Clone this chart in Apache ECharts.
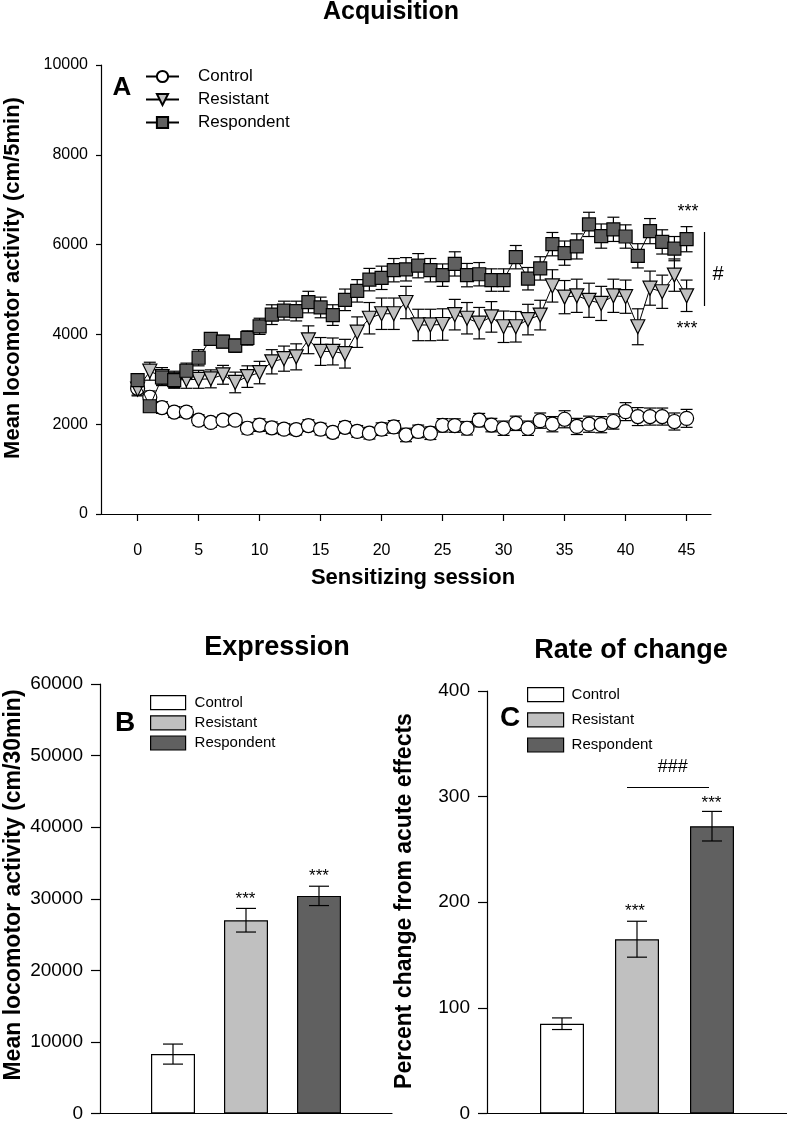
<!DOCTYPE html>
<html>
<head>
<meta charset="utf-8">
<script src="https://cdn.jsdelivr.net/npm/echarts@6/dist/echarts.min.js"></script>
<style>
html,body{margin:0;padding:0;background:#fff;}
#chart{width:787px;height:1123px;}
</style>
</head>
<body>
<div id="chart"></div>
<script>
// ---------- Panel A data ----------
const sessions = [0,1,2,3,4,5,6,7,8,9,10,11,12,13,14,15,16,17,18,19,20,21,22,23,24,25,26,27,28,29,30,31,32,33,34,35,36,37,38,39,40,41,42,43,44,45];
const xTickValues = [0,5,10,15,20,25,30,35,40,45];
const groupNames = ['Control','Resistant','Respondent'];

const controlMean = [2800,2600,2370,2270,2270,2090,2040,2090,2090,1910,1980,1920,1890,1880,1970,1890,1820,1930,1840,1800,1890,1940,1760,1840,1800,1975,1970,1910,2090,1980,1910,2020,1910,2080,2000,2110,1950,2000,1990,2060,2280,2170,2170,2170,2060,2130];
const controlErr = [150,140,130,120,120,120,110,110,110,130,140,130,120,120,130,130,120,130,130,130,140,140,150,140,140,150,150,150,150,150,160,160,160,170,170,190,180,180,180,170,200,200,190,190,190,200];

const resistantMean = [2780,3180,3060,2990,2990,3000,3010,3100,2930,3060,3150,3390,3460,3500,3880,3620,3620,3570,4050,4360,4460,4460,4710,4210,4210,4220,4440,4360,4250,4390,4170,4170,4330,4430,5080,4830,4860,4760,4690,4860,4840,4170,5030,4950,5320,4860];
const resistantErr = [150,200,200,190,190,200,200,210,230,240,250,270,280,290,310,310,300,320,340,350,350,350,360,350,350,350,340,350,350,340,350,340,340,330,360,370,370,380,380,370,370,400,380,370,360,350];

const respondentMean = [2980,2400,3040,2980,3190,3480,3900,3840,3750,3920,4180,4440,4530,4520,4720,4600,4430,4770,4970,5220,5260,5430,5450,5530,5430,5320,5570,5320,5340,5210,5210,5720,5240,5470,6010,5810,5960,6450,6190,6340,6180,5750,6300,6060,5910,6120];
const respondentErr = [140,130,150,160,170,180,130,140,150,160,180,220,210,220,240,230,230,240,250,250,260,260,260,270,260,250,270,260,260,250,250,260,250,260,260,270,280,270,270,270,260,270,280,270,270,280];

// ---------- Panel B / C data ----------
const barPositions = [1,2,3];
const expressionMean = [8300,27000,30400];
const expressionErr = [1400,1650,1350];
const rateMean = [85,165,272];
const rateErr = [5.5,17,14];

const FONT = "'Liberation Sans', Arial, Helvetica, sans-serif";
const colorsA = {Control:'#ffffff', Resistant:'#c0c0c0', Respondent:'#606060'};
const symbolsA = {Control:'circle', Resistant:'triangle', Respondent:'rect'};
const rotA = {Control:0, Resistant:180, Respondent:0};
const sizeA = {Control:14, Resistant:14, Respondent:13};

function plainNum(v){ return String(v); }

function errRender(capHalf){
  return function(params, api){
    const x = api.value(0), lo = api.value(1), hi = api.value(2);
    const p1 = api.coord([x, hi]);
    const p2 = api.coord([x, lo]);
    const st = {stroke:'#000', lineWidth:1.2};
    return {type:'group', children:[
      {type:'line', shape:{x1:p1[0], y1:p1[1], x2:p2[0], y2:p2[1]}, style:st},
      {type:'line', shape:{x1:p1[0]-capHalf, y1:p1[1], x2:p1[0]+capHalf, y2:p1[1]}, style:st},
      {type:'line', shape:{x1:p2[0]-capHalf, y1:p2[1], x2:p2[0]+capHalf, y2:p2[1]}, style:st}
    ]};
  };
}

const meansA = {Control:controlMean, Resistant:resistantMean, Respondent:respondentMean};
const errsA = {Control:controlErr, Resistant:resistantErr, Respondent:respondentErr};

const series = [];
groupNames.forEach(function(g){
  series.push({
    type:'custom', name:g+' err', xAxisIndex:0, yAxisIndex:0, z:1, silent:true,
    renderItem: errRender(6),
    data: sessions.map(function(s,i){ return [s, meansA[g][i]-errsA[g][i], meansA[g][i]+errsA[g][i]]; })
  });
});
groupNames.forEach(function(g, k){
  series.push({
    type:'line', name:g, xAxisIndex:0, yAxisIndex:0, z:3+k,
    symbol:symbolsA[g], symbolSize:sizeA[g], symbolRotate:rotA[g], showAllSymbol:true,
    lineStyle:{color:'#000', width:1},
    itemStyle:{color:colorsA[g], borderColor:'#000', borderWidth:1.2, opacity:1},
    data: sessions.map(function(s,i){ return [s, meansA[g][i]]; })
  });
});
groupNames.forEach(function(g, i){
  series.push({
    type:'bar', name:g, xAxisIndex:1, yAxisIndex:1, barWidth:44, barGap:'-100%', z:2,
    itemStyle:{color:colorsA[g], borderColor:'#000', borderWidth:1.2},
    data:[[barPositions[i], expressionMean[i]]]
  });
});
series.push({
  type:'custom', xAxisIndex:1, yAxisIndex:1, z:5, silent:true, renderItem:errRender(10),
  data: barPositions.map(function(p,i){ return [p, expressionMean[i]-expressionErr[i], expressionMean[i]+expressionErr[i]]; })
});
groupNames.forEach(function(g, i){
  series.push({
    type:'bar', name:g, xAxisIndex:2, yAxisIndex:2, barWidth:44, barGap:'-100%', z:2,
    itemStyle:{color:colorsA[g], borderColor:'#000', borderWidth:1.2},
    data:[[barPositions[i], rateMean[i]]]
  });
});
series.push({
  type:'custom', xAxisIndex:2, yAxisIndex:2, z:5, silent:true, renderItem:errRender(10),
  data: barPositions.map(function(p,i){ return [p, rateMean[i]-rateErr[i], rateMean[i]+rateErr[i]]; })
});

const axisLine = {show:true, onZero:false, lineStyle:{color:'#000', width:1.2}};

function rectLegendData(){
  return groupNames.map(function(g){
    return {name:g, icon:'rect', itemStyle:{color:colorsA[g], borderColor:'#000', borderWidth:1.2}};
  });
}

const option = {
  animation:false,
  backgroundColor:'#fff',
  textStyle:{fontFamily:FONT},
  grid:[
    {left:101, top:65, width:610, height:449},
    {left:100, top:684, width:292, height:430},
    {left:487, top:691, width:300, height:425}
  ],
  xAxis:[
    {type:'value', gridIndex:0, min:-3, max:47, axisLine:axisLine,
     axisTick:{show:true, length:7, customValues:xTickValues, lineStyle:{color:'#000', width:1.2}},
     axisLabel:{show:true, customValues:xTickValues, fontSize:16, color:'#000', margin:29, fontFamily:FONT, formatter:plainNum},
     splitLine:{show:false}},
    {type:'value', gridIndex:1, min:0, max:4, axisLine:axisLine, axisTick:{show:false}, axisLabel:{show:false}, splitLine:{show:false}},
    {type:'value', gridIndex:2, min:0, max:4, axisLine:axisLine, axisTick:{show:false}, axisLabel:{show:false}, splitLine:{show:false}}
  ],
  yAxis:[
    {type:'value', gridIndex:0, min:0, max:10000, interval:2000, axisLine:axisLine,
     axisTick:{show:true, length:5, lineStyle:{color:'#000', width:1.2}},
     axisLabel:{fontSize:16, color:'#000', margin:13, fontFamily:FONT, formatter:plainNum}, splitLine:{show:false}},
    {type:'value', gridIndex:1, min:0, max:60000, interval:10000, axisLine:axisLine,
     axisTick:{show:true, length:9, lineStyle:{color:'#000', width:1.2}},
     axisLabel:{fontSize:19, color:'#000', margin:17, fontFamily:FONT, formatter:plainNum}, splitLine:{show:false}},
    {type:'value', gridIndex:2, min:0, max:400, interval:100, axisLine:axisLine,
     axisTick:{show:true, length:9, lineStyle:{color:'#000', width:1.2}},
     axisLabel:{fontSize:19, color:'#000', margin:17, fontFamily:FONT, formatter:plainNum}, splitLine:{show:false}}
  ],
  legend:[
    {orient:'vertical', left:140, top:63, itemWidth:33, itemHeight:14, itemGap:6,
     selectedMode:false, data:groupNames.slice(),
     textStyle:{fontSize:17, color:'#000', fontFamily:FONT, padding:[0,0,0,14]}},
    {orient:'vertical', left:145, top:690, itemWidth:35, itemHeight:14, itemGap:5,
     selectedMode:false, data:rectLegendData(),
     textStyle:{fontSize:15, color:'#000', fontFamily:FONT, padding:[0,0,0,4]}},
    {orient:'vertical', left:522, top:682, itemWidth:36, itemHeight:14, itemGap:10,
     selectedMode:false, data:rectLegendData(),
     textStyle:{fontSize:15, color:'#000', fontFamily:FONT, padding:[0,0,0,3]}}
  ],
  graphic:[
    {type:'text', x:391, y:12, style:{text:'Acquisition', font:'bold 25px '+FONT, fill:'#000', textAlign:'center', textVerticalAlign:'middle'}},
    {type:'text', x:277, y:648, style:{text:'Expression', font:'bold 27px '+FONT, fill:'#000', textAlign:'center', textVerticalAlign:'middle'}},
    {type:'text', x:631, y:651, style:{text:'Rate of change', font:'bold 27px '+FONT, fill:'#000', textAlign:'center', textVerticalAlign:'middle'}},
    {type:'text', x:13, y:278, rotation:Math.PI/2, style:{text:'Mean locomotor activity (cm/5min)', font:'bold 22px '+FONT, fill:'#000', textAlign:'center', textVerticalAlign:'middle'}},
    {type:'text', x:14, y:885, rotation:Math.PI/2, style:{text:'Mean locomotor activity (cm/30min)', font:'bold 23px '+FONT, fill:'#000', textAlign:'center', textVerticalAlign:'middle'}},
    {type:'text', x:405, y:901, rotation:Math.PI/2, style:{text:'Percent change from acute effects', font:'bold 23px '+FONT, fill:'#000', textAlign:'center', textVerticalAlign:'middle'}},
    {type:'text', x:413, y:578, style:{text:'Sensitizing session', font:'bold 22px '+FONT, fill:'#000', textAlign:'center', textVerticalAlign:'middle'}},
    {type:'text', x:122, y:88, style:{text:'A', font:'bold 26px '+FONT, fill:'#000', textAlign:'center', textVerticalAlign:'middle'}},
    {type:'text', x:125, y:723, style:{text:'B', font:'bold 28px '+FONT, fill:'#000', textAlign:'center', textVerticalAlign:'middle'}},
    {type:'text', x:510, y:718, style:{text:'C', font:'bold 28px '+FONT, fill:'#000', textAlign:'center', textVerticalAlign:'middle'}},
    {type:'text', x:688, y:212, style:{text:'***', font:'18px '+FONT, fill:'#000', textAlign:'center', textVerticalAlign:'middle'}},
    {type:'text', x:687, y:329, style:{text:'***', font:'18px '+FONT, fill:'#000', textAlign:'center', textVerticalAlign:'middle'}},
    {type:'line', shape:{x1:704.5, y1:232, x2:704.5, y2:306}, style:{stroke:'#000', lineWidth:1.2}},
    {type:'text', x:718, y:274, style:{text:'#', font:'20px '+FONT, fill:'#000', textAlign:'center', textVerticalAlign:'middle'}},
    {type:'text', x:245.5, y:899, style:{text:'***', font:'17px '+FONT, fill:'#000', textAlign:'center', textVerticalAlign:'middle'}},
    {type:'text', x:319, y:876, style:{text:'***', font:'17px '+FONT, fill:'#000', textAlign:'center', textVerticalAlign:'middle'}},
    {type:'text', x:635, y:911, style:{text:'***', font:'17px '+FONT, fill:'#000', textAlign:'center', textVerticalAlign:'middle'}},
    {type:'text', x:711.5, y:803, style:{text:'***', font:'17px '+FONT, fill:'#000', textAlign:'center', textVerticalAlign:'middle'}},
    {type:'line', shape:{x1:627, y1:787.5, x2:709, y2:787.5}, style:{stroke:'#000', lineWidth:1}},
    {type:'text', x:672.7, y:767, style:{text:'###', font:'18px '+FONT, fill:'#000', textAlign:'center', textVerticalAlign:'middle'}}
  ],
  series:series
};

const chart = echarts.init(document.getElementById('chart'), null, {renderer:'canvas', width:787, height:1123});
chart.setOption(option);
</script>
</body>
</html>
